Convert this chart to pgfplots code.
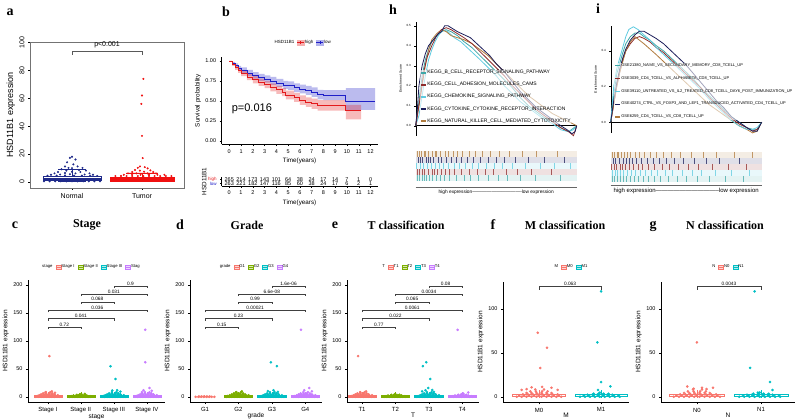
\documentclass[border=0pt]{standalone}
\usepackage{fontspec}
\setmainfont{Liberation Sans}
\newfontfamily\serifb{Liberation Serif}
\usepackage{pgfplots}
\pgfplotsset{compat=1.18}
\usepgfplotslibrary{statistics}
\usepackage{pgfplotstable}
\newcommand{\fs}[1]{\fontsize{#1}{#1}\selectfont}

\definecolor{cA}{HTML}{F8766D}
\definecolor{cB}{HTML}{7CAE00}
\definecolor{cC}{HTML}{00BFC4}
\definecolor{cD}{HTML}{C77CFF}
\definecolor{navyc}{HTML}{1F2A8A}
\definecolor{tred}{HTML}{F01010}
\definecolor{sred}{HTML}{E31A1C}
\definecolor{sblue}{HTML}{1F1FC8}
\definecolor{gteal}{HTML}{3FA7A7}
\definecolor{gmaroon}{HTML}{8E2B2B}
\definecolor{gcyan}{HTML}{5FCBE0}
\definecolor{gnavy}{HTML}{1C1E5A}
\definecolor{gtan}{HTML}{B07B3E}

% survival estimates
\pgfplotstableread{
t est
0 1.00
0.25 0.97
0.5 0.94
0.75 0.91
1 0.885
1.5 0.85
2 0.82
2.5 0.795
3 0.775
3.5 0.75
4 0.725
4.6 0.70
5 0.69
5.5 0.665
6 0.65
6.5 0.63
7 0.61
7.5 0.58
8 0.57
9.9 0.50
12.4 0.50
}\survlow
\pgfplotstableread{
t est
0 1.00
0.25 0.96
0.5 0.92
0.75 0.88
1 0.845
1.5 0.80
2 0.765
2.5 0.735
3 0.705
3.5 0.67
4 0.64
4.5 0.61
4.8 0.575
5.5 0.545
6 0.51
6.5 0.485
7 0.465
7.5 0.445
9.9 0.38
11.2 0.38
}\survhigh
\pgfplotstableread{
x y n
0 2 265
1 2 214
2 2 173
3 2 143
4 2 101
5 2 64
6 2 38
7 2 24
8 2 17
9 2 14
10 2 7
11 2 1
12 2 0
0 1 263
1 1 221
2 1 182
3 1 147
4 1 116
5 1 85
6 1 60
7 1 38
8 1 24
9 1 17
10 1 6
11 1 2
12 1 1
}\risk

% jittered bulk of points near zero (offset from the category, value)
\pgfplotstableread{
dx y
-0.36 0.3
-0.28 0.3
-0.20 0.3
-0.12 0.3
-0.04 0.3
0.04 0.3
0.12 0.3
0.20 0.3
0.28 0.3
0.36 0.3
-0.32 1.6
-0.24 1.6
-0.16 1.6
-0.08 1.6
0.00 1.6
0.08 1.6
0.16 1.6
0.24 1.6
0.32 1.6
-0.26 3.0
-0.18 3.0
-0.10 3.0
-0.02 3.0
0.06 3.0
0.14 3.0
0.22 3.0
0.30 3.0
-0.20 4.6
-0.12 4.6
-0.04 4.6
0.04 4.6
0.12 4.6
0.20 4.6
-0.14 6.4
-0.05 6.4
0.05 6.4
0.14 6.4
-0.06 8.6
0.08 8.6
}\swarmA
\pgfplotstableread{
dx y
-0.34 0.3
-0.26 0.3
-0.18 0.3
-0.10 0.3
-0.02 0.3
0.06 0.3
0.14 0.3
0.22 0.3
0.30 0.3
-0.28 1.4
-0.20 1.4
-0.12 1.4
-0.04 1.4
0.04 1.4
0.12 1.4
0.20 1.4
0.28 1.4
-0.22 2.6
-0.14 2.6
-0.06 2.6
0.02 2.6
0.10 2.6
0.18 2.6
-0.12 3.8
-0.04 3.8
0.04 3.8
0.12 3.8
-0.02 5.0
}\swarmB
\pgfplotstableread{
dx y
-0.28 0.2
-0.20 0.2
-0.12 0.2
-0.04 0.2
0.04 0.2
0.12 0.2
0.20 0.2
0.28 0.2
-0.18 0.9
-0.10 0.9
-0.02 0.9
0.06 0.9
0.14 0.9
}\swarmC

\pgfplotsset{
  base/.style={scale only axis, anchor=north west, clip=false,
    tick align=outside, major tick length=2pt,
    tick style={black, line width=0.4pt}, axis line style={line width=0.4pt},
    /pgf/number format/assume math mode=true, label style={inner sep=1pt},
    boxplot/draw direction=y},
  dots/.style={only marks, mark=*, mark size=1.1pt, color=#1,
    mark options={draw=none, fill=#1}, forget plot},
  bx/.style 2 args={#1, forget plot, line width=0.35pt,
    boxplot prepared={draw position=#2, lower whisker=0, lower quartile=0.4,
      median=1.4, upper quartile=3.6, upper whisker=8.5, box extend=0.85, whisker extend=0}},
  brk/.style={black!75, line width=0.35pt, forget plot},
  bkey/.style={legend image code/.code={
    \draw[draw=#1, fill=#1!30, line width=0.3pt] (0pt,-2pt) rectangle (5pt,2pt);
    \draw[#1, line width=0.3pt] (0pt,0pt) -- (5pt,0pt);}},
  skey/.style={legend image code/.code={
    \fill[#1!35] (0pt,-2.5pt) rectangle (7pt,2.5pt);
    \draw[#1, line width=0.6pt] (0pt,0pt) -- (7pt,0pt);
    \draw[#1, line width=0.4pt] (3.5pt,-1.5pt) -- (3.5pt,1.5pt);}},
  gkey/.style={legend image code/.code={
    \draw[#1, line width=1.6pt] (0pt,0pt) -- (5pt,0pt);}},
  bp/.style={base, axis x line*=bottom, axis y line*=left, xtick={1,2,3,4},
    tick label style={font=\fs{5.5}}, xticklabel style={font=\fs{6}},
    label style={font=\fs{6.5}}, ylabel={HSD11B1 expression},
    xlabel style={yshift=3.5pt},
    legend style={draw=none, fill=none, font=\fs{4.2}, legend columns=-1,
      anchor=center, inner sep=0pt, nodes={inner sep=0.5pt},
      /tikz/every even column/.append style={column sep=2.5pt}},
    legend cell align=left},
  bp4/.style={bp, height=122pt, ymin=-9, ymax=209, ytick={0,50,100,150,200}},
  bp2/.style={bp, height=120.6pt, ymin=-6, ymax=131, ytick={0,50,100}, xtick={1,2}},
  gsea/.style={base, axis y line*=left, axis x line=none, xtick=\empty,
    xmin=0, xmax=100, ytick style={line width=0.3pt}, major tick length=1.5pt,
    yticklabel style={font=\fs{3}, /pgf/number format/.cd, fixed, fixed zerofill, precision=1},
    ylabel={Enrichment Score}, ylabel style={font=\fs{3.5}},
    legend cell align=left},
  rug/.style={base, axis x line*=bottom, axis y line=none, xtick=\empty, ytick=\empty,
    xmin=0, xmax=100, axis line style={black!60, line width=0.5pt}},
  rug marks/.style={only marks, mark=|, mark size=3pt, opacity=0.75,
    mark options={line width=0.35pt}},
  band/.style={draw=none, fill=#1!14, forget plot},
}
\tikzset{bl/.style={font=\fs{4.8}, anchor=south, inner sep=0.6pt}}

\begin{document}
\begin{tikzpicture}
\useasboundingbox (0pt,0pt) rectangle (800pt,-419pt);

% ---------------- a
\begin{axis}[base, at={(30pt,-42pt)}, width=154pt, height=146pt,
  xmin=0.4, xmax=2.6, ymin=-4.5, ymax=100.5,
  xtick={1,2}, xticklabels={Normal,Tumor}, ytick={0,20,40,60,80,100},
  xtick pos=bottom, ytick pos=left, axis line style={black!55},
  tick label style={font=\fs{7}}, yticklabel style={rotate=90, anchor=south},
  ylabel={HSD11B1 expression}, ylabel style={font=\fs{9}}]
\addplot[dots=navyc, mark size=0.8pt] coordinates {
(1.00,18)(0.97,17.2)(1.05,16)(0.93,14)(1.02,12.5)(0.90,11)(1.08,11)(0.95,10)
(1.15,10)(1.00,9.8)(0.85,9)(1.10,8.5)(0.92,8)(1.20,8)(0.80,7)(1.00,7.2)(1.12,7)
(0.90,6.3)(1.25,6)(0.75,6)(1.05,6)(0.83,5.2)(0.97,5.4)(1.18,5.2)(1.30,5)(0.70,5)
(0.65,4.4)(0.78,4.4)(0.90,4.5)(1.03,4.4)(1.14,4.4)(1.26,4.3)(1.36,4.2)
(0.60,0.3)(0.68,0.3)(0.76,0.3)(0.84,0.3)(0.92,0.3)(1.00,0.3)(1.08,0.3)(1.16,0.3)
(1.24,0.3)(1.32,0.3)(1.40,0.3)};
\addplot[navyc, fill=white, line width=0.5pt, forget plot,
  boxplot/every median/.style={line width=1.4pt},
  boxplot prepared={draw position=1, lower whisker=0, lower quartile=0.9, median=1.9,
    upper quartile=3.9, upper whisker=9.2, box extend=0.83, whisker extend=0.4}] coordinates {};
\addplot[tred, fill=tred, line width=0.5pt, forget plot,
  boxplot prepared={draw position=2, lower whisker=0, lower quartile=0.2, median=1,
    upper quartile=2.9, upper whisker=6.3, box extend=0.92, whisker extend=0.45}] coordinates {};
\addplot[dots=tred, mark size=0.8pt] coordinates {
(2.02,74)(2.00,62)(1.99,56)(2.00,33)(2.01,17)(1.97,11)(2.04,10.5)(1.94,10)(2.08,9.6)
(1.90,8.5)(2.12,8.2)(1.97,8)(1.86,7)(2.16,7)(2.03,7.2)(1.80,6)(1.92,6)(2.08,6)(2.20,6)
(1.74,5)(1.86,5)(1.98,5)(2.10,5)(2.22,5)(2.32,5)
(1.62,4.1)(1.70,4.1)(1.78,4.1)(1.86,4.1)(1.94,4.1)(2.02,4.1)(2.10,4.1)(2.18,4.1)
(2.26,4.1)(2.34,4.1)(2.42,4.1)};
\addplot[black!65, line width=0.5pt, forget plot] coordinates {(1,91.5)(1,94)(2,94)(2,91.5)};
\node[font=\fs{7}, anchor=south, inner sep=1pt] at (axis cs:1.5,95) {p<0.001};
\end{axis}

% ---------------- b
\begin{axis}[base, at={(221.6pt,-57pt)}, width=156pt, height=87.2pt,
  xmin=-0.65, xmax=12.6, ymin=-0.04, ymax=1.05,
  axis x line*=bottom, axis y line*=left,
  xtick={0,1,...,12}, ytick={0,0.25,0.5,0.75,1},
  yticklabel style={/pgf/number format/.cd, fixed, fixed zerofill, precision=2},
  tick label style={font=\fs{5.5}}, label style={font=\fs{6.3}},
  xlabel={Time(years)}, ylabel={Survival probability},
  legend style={at={(0.52,1.164)}, anchor=center, draw=none, fill=none,
    font=\fs{4.5}, legend columns=-1, inner sep=0pt, nodes={inner sep=0.5pt},
    /tikz/every even column/.append style={column sep=2pt}}]
\addlegendimage{empty legend}\addlegendentry{HSD11B1}
\addlegendimage{skey=sred}\addlegendentry{high}
\addlegendimage{skey=sblue}\addlegendentry{low}
% confidence bands: upper limit forward, lower limit backward
\addplot[const plot, draw=none, fill=sblue, fill opacity=0.3, forget plot] coordinates {
(0,1)(0.25,0.99)(0.5,0.97)(0.75,0.94)(1,0.92)(1.5,0.89)(2,0.86)(2.5,0.84)(3,0.82)
(3.5,0.80)(4,0.775)(4.6,0.75)(5,0.745)(5.5,0.72)(6,0.705)(6.5,0.69)(7,0.67)(7.5,0.64)
(8,0.635)(9.9,0.66)(12.4,0.66)
(12.4,0.39)(9.9,0.51)(8,0.52)(7.5,0.55)(7,0.575)(6.5,0.595)(6,0.61)(5.5,0.64)(5,0.65)
(4.6,0.675)(4,0.70)(3.5,0.73)(3,0.75)(2.5,0.78)(2,0.81)(1.5,0.85)(1,0.88)(0.75,0.91)
(0.5,0.95)(0.25,1)(0,1)};
\addplot[const plot, draw=none, fill=sred, fill opacity=0.3, forget plot] coordinates {
(0,1)(0.25,0.98)(0.5,0.95)(0.75,0.91)(1,0.88)(1.5,0.84)(2,0.81)(2.5,0.78)(3,0.75)
(3.5,0.72)(4,0.69)(4.5,0.66)(4.8,0.63)(5.5,0.60)(6,0.57)(6.5,0.545)(7,0.53)(7.5,0.51)
(9.9,0.45)(11.2,0.45)
(11.2,0.27)(9.9,0.38)(7.5,0.40)(7,0.425)(6.5,0.45)(6,0.49)(5.5,0.52)(4.8,0.56)(4.5,0.59)
(4,0.62)(3.5,0.66)(3,0.69)(2.5,0.72)(2,0.76)(1.5,0.81)(1,0.85)(0.75,0.89)(0.5,0.94)
(0.25,1)(0,1)};
\addplot[const plot, sblue, line width=0.8pt, forget plot] table[x=t, y=est]{\survlow};
\addplot[const plot, sred, line width=0.8pt, forget plot] table[x=t, y=est]{\survhigh};
\node[font=\fs{11}, anchor=west, inner sep=0pt] at (axis cs:0.2,0.40) {p=0.016};
\end{axis}

\begin{axis}[base, at={(221.6pt,-176.8pt)}, width=156pt, height=9.24pt,
  xmin=-0.65, xmax=12.6, ymin=0.4, ymax=2.6,
  axis x line*=bottom, axis y line*=left,
  xtick={0,1,...,12}, ytick={1,2}, major tick length=1.5pt,
  yticklabels={\textcolor{sblue}{low},\textcolor{sred}{high}},
  yticklabel style={font=\fs{4.5}},
  xticklabel style={font=\fs{5.5}}, label style={font=\fs{6.3}},
  xlabel={Time(years)}, ylabel={HSD11B1}, ylabel style={yshift=-3pt}]
\addplot[only marks, mark=none, nodes near coords, point meta=explicit symbolic,
  nodes near coords style={anchor=center, font=\fs{5.5}, inner sep=0pt}]
  table[x=x, y=y, meta=n]{\risk};
\end{axis}

% ---------------- h
\begin{axis}[gsea, at={(415.7pt,-21.7pt)}, width=161pt, height=114pt,
  ymin=-0.05, ymax=0.52, ytick={0,0.1,0.2,0.3,0.4,0.5},
  legend style={at={(0.027,0.58)}, anchor=north west, draw=none, fill=white,
    fill opacity=0.6, text opacity=1, font=\fs{5}, inner sep=0pt,
    nodes={inner sep=0.5pt}, row sep=6.1pt}]
\addlegendimage{gkey=gteal}\addlegendentry{KEGG\_B\_CELL\_RECEPTOR\_SIGNALING\_PATHWAY}
\addlegendimage{gkey=gmaroon}\addlegendentry{KEGG\_CELL\_ADHESION\_MOLECULES\_CAMS}
\addlegendimage{gkey=gcyan}\addlegendentry{KEGG\_CHEMOKINE\_SIGNALING\_PATHWAY}
\addlegendimage{gkey=gnavy}\addlegendentry{KEGG\_CYTOKINE\_CYTOKINE\_RECEPTOR\_INTERACTION}
\addlegendimage{gkey=gtan}\addlegendentry{KEGG\_NATURAL\_KILLER\_CELL\_MEDIATED\_CYTOTOXICITY}
\addplot[black, line width=0.4pt, forget plot] coordinates {(0,0)(100,0)};
\addplot[gteal, line width=0.8pt, forget plot] coordinates {
(0,0)(2,0.12)(4,0.25)(6,0.33)(8,0.38)(10,0.42)(13,0.45)(16,0.47)(19,0.48)(22,0.47)
(26,0.45)(30,0.42)(35,0.39)(40,0.35)(45,0.31)(50,0.27)(55,0.23)(60,0.19)(65,0.14)
(70,0.10)(75,0.07)(80,0.04)(85,0.02)(90,-0.01)(95,-0.03)(100,0)};
\addplot[gcyan, line width=0.8pt, forget plot] coordinates {
(0,0)(2,0.05)(4,0.15)(6,0.25)(8,0.33)(10,0.38)(12,0.42)(14,0.45)(17,0.48)(20,0.47)
(24,0.44)(28,0.42)(32,0.39)(36,0.36)(40,0.33)(45,0.29)(50,0.25)(55,0.20)(60,0.16)
(65,0.12)(70,0.09)(75,0.06)(80,0.03)(85,0.01)(90,-0.02)(95,-0.03)(98,-0.02)(100,0)};
\addplot[gtan, line width=0.8pt, forget plot] coordinates {
(0,0)(2,0.10)(4,0.20)(6,0.30)(8,0.38)(10,0.43)(13,0.46)(16,0.48)(19,0.47)(22,0.45)
(26,0.44)(30,0.43)(35,0.41)(40,0.38)(45,0.35)(50,0.31)(55,0.27)(60,0.23)(65,0.19)
(70,0.15)(75,0.12)(80,0.09)(85,0.06)(90,0.04)(95,0.02)(100,0)};
\addplot[gmaroon, line width=0.8pt, forget plot] coordinates {
(0,0)(1,0.05)(3,0.15)(5,0.27)(7,0.34)(10,0.40)(13,0.45)(16,0.48)(19,0.49)(22,0.48)
(26,0.46)(30,0.44)(35,0.41)(40,0.37)(45,0.33)(50,0.29)(55,0.25)(60,0.20)(65,0.16)
(70,0.12)(75,0.08)(80,0.05)(85,0.02)(90,-0.01)(95,-0.03)(98,-0.05)(100,0)};
\addplot[gnavy, line width=0.8pt, forget plot] coordinates {
(0,0)(1,0.08)(2,0.20)(4,0.30)(6,0.36)(8,0.40)(10,0.42)(12,0.44)(14,0.46)(16,0.47)
(18,0.50)(20,0.50)(22,0.49)(26,0.47)(30,0.455)(34,0.44)(38,0.41)(42,0.38)(46,0.35)
(50,0.31)(55,0.27)(60,0.22)(65,0.17)(70,0.13)(75,0.09)(80,0.06)(85,0.03)(90,0.0)
(94,-0.02)(97,-0.04)(99,-0.03)(100,0)};
\end{axis}

\begin{axis}[rug, at={(415.7pt,-150pt)}, width=161pt, height=37pt,
  ymin=-0.5, ymax=5.67,
  xlabel={high expression-------------------------------low expression},
  xlabel style={font=\fs{4.8}, inner sep=0.5pt}]
\addplot[band=gtan] coordinates {(0,4.5)(100,4.5)(100,5.5)(0,5.5)};
\addplot[band=gnavy] coordinates {(0,3.5)(100,3.5)(100,4.5)(0,4.5)};
\addplot[band=gcyan] coordinates {(0,2.5)(100,2.5)(100,3.5)(0,3.5)};
\addplot[band=gmaroon] coordinates {(0,1.5)(100,1.5)(100,2.5)(0,2.5)};
\addplot[band=gteal] coordinates {(0,0.5)(100,0.5)(100,1.5)(0,1.5)};
\addplot[rug marks, gtan] coordinates {(1,5)(2,5)(3.5,5)(5,5)(6,5)(8,5)(10,5)(12,5)(13,5)
(15,5)(18,5)(20,5)(23,5)(26,5)(29,5)(33,5)(37,5)(41,5)(46,5)(52,5)(58,5)(66,5)(75,5)(88,5)};
\addplot[rug marks, gnavy] coordinates {(1.5,4)(3,4)(4,4)(6.5,4)(8,4)(9,4)(11,4)(14,4)
(16,4)(19,4)(22,4)(25,4)(28,4)(32,4)(36,4)(40,4)(45,4)(50,4)(55,4)(62,4)(70,4)(80,4)(92,4)};
\addplot[rug marks, gcyan] coordinates {(0.5,3)(2.5,3)(4.5,3)(7,3)(9.5,3)(12,3)(14.5,3)
(17,3)(20,3)(24,3)(27,3)(31,3)(35,3)(39,3)(44,3)(49,3)(54,3)(60,3)(68,3)(77,3)(86,3)(96,3)};
\addplot[rug marks, gmaroon] coordinates {(1,2)(2,2)(4,2)(5.5,2)(7.5,2)(10,2)(11.5,2)
(13.5,2)(16,2)(18.5,2)(21,2)(24,2)(28,2)(33,2)(38,2)(43,2)(48,2)(56,2)(63,2)(72,2)(84,2)};
\addplot[rug marks, gteal] coordinates {(0.8,1)(2.2,1)(3.8,1)(5,1)(6.8,1)(8.5,1)(10.5,1)
(12.5,1)(15,1)(17.5,1)(21,1)(25,1)(30,1)(34,1)(39,1)(45,1)(51,1)(57,1)(65,1)(74,1)(90,1)};
\end{axis}

% ---------------- i
\begin{axis}[gsea, at={(610.7pt,-25.9pt)}, width=151pt, height=107pt,
  ymin=-0.06, ymax=0.54, ytick={0,0.2,0.4},
  legend style={at={(0.022,0.655)}, anchor=north west, draw=none, fill=white,
    fill opacity=0.6, text opacity=1, font=\fs{4.0}, inner sep=0pt,
    nodes={inner sep=0.5pt}, row sep=7.6pt}]
\addlegendimage{gkey=gteal}\addlegendentry{GSE21380\_NAIVE\_VS\_SECONDARY\_MEMORY\_CD8\_TCELL\_UP}
\addlegendimage{gkey=gmaroon}\addlegendentry{GSE3039\_CD4\_TCELL\_VS\_ALPHABETA\_CD8\_TCELL\_UP}
\addlegendimage{gkey=gcyan}\addlegendentry{GSE39110\_UNTREATED\_VS\_IL2\_TREATED\_CD8\_TCELL\_DAY6\_POST\_IMMUNIZATION\_UP}
\addlegendimage{gkey=gnavy}\addlegendentry{GSE40274\_CTRL\_VS\_FOXP3\_AND\_LEF1\_TRANSDUCED\_ACTIVATED\_CD4\_TCELL\_UP}
\addlegendimage{gkey=gtan}\addlegendentry{GSE6259\_CD4\_TCELL\_VS\_CD8\_TCELL\_UP}
\addplot[black, line width=0.4pt, forget plot] coordinates {(0,0)(100,0)};
\addplot[gteal, line width=0.8pt, forget plot] coordinates {
(0,0)(2,0.15)(4,0.27)(6,0.33)(8,0.39)(10,0.44)(13,0.48)(16,0.50)(19,0.50)(22,0.48)
(26,0.46)(30,0.43)(35,0.40)(40,0.36)(45,0.32)(50,0.28)(55,0.24)(60,0.19)(65,0.15)
(70,0.11)(75,0.07)(80,0.03)(85,0.0)(90,-0.03)(94,-0.04)(97,-0.04)(100,0)};
\addplot[gmaroon, line width=0.8pt, forget plot] coordinates {
(0,0)(2,0.10)(4,0.20)(6,0.28)(8,0.35)(10,0.40)(13,0.44)(16,0.47)(19,0.48)(22,0.47)
(26,0.45)(30,0.42)(35,0.39)(40,0.35)(45,0.31)(50,0.27)(55,0.23)(60,0.19)(65,0.14)
(70,0.10)(75,0.06)(80,0.02)(85,-0.01)(90,-0.03)(94,-0.05)(97,-0.04)(100,0)};
\addplot[gtan, line width=0.8pt, forget plot] coordinates {
(0,0)(2,0.10)(4,0.20)(6,0.28)(8,0.34)(10,0.40)(13,0.45)(16,0.48)(19,0.46)(22,0.44)
(26,0.41)(30,0.38)(35,0.34)(40,0.30)(45,0.26)(50,0.22)(55,0.18)(60,0.14)(65,0.10)
(70,0.07)(75,0.04)(80,0.01)(85,-0.02)(90,-0.04)(94,-0.06)(97,-0.05)(100,0)};
\addplot[gcyan, line width=0.8pt, forget plot] coordinates {
(0,0)(2,0.20)(4,0.30)(6,0.36)(8,0.42)(10,0.48)(12,0.52)(15,0.535)(18,0.52)(22,0.49)
(26,0.46)(30,0.42)(35,0.38)(40,0.34)(45,0.30)(50,0.26)(55,0.22)(60,0.18)(65,0.13)
(70,0.09)(75,0.05)(80,0.01)(85,-0.02)(90,-0.04)(94,-0.04)(97,-0.03)(100,0)};
\addplot[gnavy, line width=0.8pt, forget plot] coordinates {
(0,0)(2,0.12)(4,0.22)(6,0.30)(8,0.36)(10,0.41)(13,0.46)(16,0.49)(19,0.51)(22,0.51)
(26,0.49)(30,0.47)(35,0.44)(40,0.40)(45,0.36)(50,0.32)(55,0.27)(60,0.22)(65,0.17)
(70,0.12)(75,0.08)(80,0.03)(85,0.0)(90,-0.03)(94,-0.05)(97,-0.05)(100,0)};
\end{axis}

\begin{axis}[rug, at={(610.7pt,-152pt)}, width=151pt, height=33pt,
  ymin=0, ymax=5.5,
  xlabel={high expression--------------------------------low expression},
  xlabel style={font=\fs{6}, inner sep=0.5pt}]
\addplot[band=gtan] coordinates {(0,4.5)(100,4.5)(100,5.5)(0,5.5)};
\addplot[band=gnavy] coordinates {(0,3.5)(100,3.5)(100,4.5)(0,4.5)};
\addplot[band=gmaroon] coordinates {(0,2.5)(100,2.5)(100,3.5)(0,3.5)};
\addplot[band=gcyan] coordinates {(0,1.5)(100,1.5)(100,2.5)(0,2.5)};
\addplot[band=gteal] coordinates {(0,0.5)(100,0.5)(100,1.5)(0,1.5)};
\addplot[rug marks, gtan] coordinates {(1,5)(2.5,5)(4,5)(5,5)(7,5)(9,5)(11,5)(13,5)(16,5)
(19,5)(22,5)(26,5)(30,5)(35,5)(40,5)(46,5)(53,5)(61,5)(70,5)(82,5)(94,5)};
\addplot[rug marks, gnavy] coordinates {(1.5,4)(3,4)(5.5,4)(8,4)(10,4)(12,4)(14,4)(17,4)
(20,4)(24,4)(28,4)(32,4)(37,4)(42,4)(48,4)(55,4)(63,4)(72,4)(85,4)};
\addplot[rug marks, gmaroon] coordinates {(0.5,3)(2,3)(3.5,3)(6,3)(7.5,3)(9.5,3)(12.5,3)
(15,3)(18,3)(21,3)(25,3)(29,3)(34,3)(39,3)(45,3)(51,3)(58,3)(67,3)(78,3)(90,3)};
\addplot[rug marks, gcyan] coordinates {(1,2)(3,2)(4.5,2)(6.5,2)(8.5,2)(11,2)(13.5,2)
(16,2)(19.5,2)(23,2)(27,2)(31,2)(36,2)(41,2)(47,2)(54,2)(60,2)(69,2)(80,2)(92,2)};
\addplot[rug marks, gteal] coordinates {(0.8,1)(2.2,1)(4,1)(6,1)(8,1)(10.5,1)(13,1)(15.5,1)
(18,1)(21.5,1)(25,1)(29,1)(33,1)(38,1)(44,1)(50,1)(57,1)(65,1)(76,1)(88,1)};
\end{axis}

% ---------------- c
\begin{axis}[bp4, at={(28pt,-280pt)}, width=137pt, xmin=0.4, xmax=4.55,
  xticklabels={Stage I,Stage II,Stage III,Stage IV}, xlabel={stage},
  legend style={at={(0.46,1.107)}}]
\addlegendimage{empty legend}\addlegendentry{stage}
\addlegendimage{bkey=cA}\addlegendentry{Stage I}
\addlegendimage{bkey=cB}\addlegendentry{Stage II}
\addlegendimage{bkey=cC}\addlegendentry{Stage III}
\addlegendimage{bkey=cD}\addlegendentry{Stag}
\addplot[bx={cA}{1}] coordinates {};
\addplot[bx={cB}{2}] coordinates {};
\addplot[bx={cC}{3}] coordinates {};
\addplot[bx={cD}{4}] coordinates {};
\addplot[dots=cA] table[x expr=\thisrow{dx}+1, y=y]{\swarmA};
\addplot[dots=cA] coordinates {(1.05,73)(1.12,10)(0.93,8.5)(1.22,7.5)};
\addplot[dots=cB] table[x expr=\thisrow{dx}+2, y=y]{\swarmB};
\addplot[dots=cB] coordinates {(2.12,5.5)};
\addplot[dots=cC] table[x expr=\thisrow{dx}+3, y=y]{\swarmA};
\addplot[dots=cC] coordinates {(2.9,55)(3.05,32)(2.95,11.5)(3.1,12)(3.2,9.5)};
\addplot[dots=cD] table[x expr=\thisrow{dx}+4, y=y]{\swarmA};
\addplot[dots=cD] coordinates {(3.95,120)(3.95,62)(4.08,16)(3.9,12)(4.15,11)(3.85,8.5)};
\addplot[brk] coordinates {(1,121)(1,125)(2,125)(2,121)};
\addplot[brk] coordinates {(1,136)(1,140)(3,140)(3,136)};
\addplot[brk] coordinates {(1,151)(1,155)(4,155)(4,151)};
\addplot[brk] coordinates {(2,166)(2,170)(3,170)(3,166)};
\addplot[brk] coordinates {(2,180)(2,184)(4,184)(4,180)};
\addplot[brk] coordinates {(3,194)(3,198)(4,198)(4,194)};
\node[bl] at (axis cs:1.5,125) {0.72};
\node[bl] at (axis cs:2,140) {0.041};
\node[bl] at (axis cs:2.5,155) {0.036};
\node[bl] at (axis cs:2.5,170) {0.068};
\node[bl] at (axis cs:3,184) {0.031};
\node[bl] at (axis cs:3.5,198) {0.9};
\end{axis}

% ---------------- d
\begin{axis}[bp4, at={(190pt,-280pt)}, width=132pt, xmin=0.55, xmax=4.5,
  xticklabels={G1,G2,G3,G4}, xlabel={grade},
  legend style={at={(0.485,1.107)}}]
\addlegendimage{empty legend}\addlegendentry{grade}
\addlegendimage{bkey=cA}\addlegendentry{G1}
\addlegendimage{bkey=cB}\addlegendentry{G2}
\addlegendimage{bkey=cC}\addlegendentry{G3}
\addlegendimage{bkey=cD}\addlegendentry{G4}
\addplot[bx={cB}{2}] coordinates {};
\addplot[bx={cC}{3}] coordinates {};
\addplot[bx={cD}{4}] coordinates {};
\addplot[dots=cA] table[x expr=\thisrow{dx}+1, y=y]{\swarmC};
\addplot[dots=cB] table[x expr=\thisrow{dx}+2, y=y]{\swarmA};
\addplot[dots=cB] coordinates {(2.1,10)(1.92,8)};
\addplot[dots=cC] table[x expr=\thisrow{dx}+3, y=y]{\swarmA};
\addplot[dots=cC] coordinates {(2.97,62)(3.15,55)(2.88,10.5)(3.05,12)(3.18,9)};
\addplot[dots=cD] table[x expr=\thisrow{dx}+4, y=y]{\swarmA};
\addplot[dots=cD] coordinates {(3.87,120)(4.12,16)(3.97,12)(4.2,10)};
\addplot[brk] coordinates {(1,121)(1,125)(2,125)(2,121)};
\addplot[brk] coordinates {(1,136)(1,140)(3,140)(3,136)};
\addplot[brk] coordinates {(1,151)(1,155)(4,155)(4,151)};
\addplot[brk] coordinates {(2,166)(2,170)(3,170)(3,166)};
\addplot[brk] coordinates {(2,180)(2,184)(4,184)(4,180)};
\addplot[brk] coordinates {(3,194)(3,198)(4,198)(4,194)};
\node[bl] at (axis cs:1.5,125) {0.15};
\node[bl] at (axis cs:2,140) {0.23};
\node[bl] at (axis cs:2.5,155) {0.00021};
\node[bl] at (axis cs:2.5,170) {0.99};
\node[bl] at (axis cs:3,184) {6.6e-08};
\node[bl] at (axis cs:3.5,198) {1.6e-06};
\end{axis}

% ---------------- e
\begin{axis}[bp4, at={(347pt,-280pt)}, width=132pt, xmin=0.55, xmax=4.5,
  xticklabels={T1,T2,T3,T4}, xlabel={T},
  legend style={at={(0.485,1.107)}}]
\addlegendimage{empty legend}\addlegendentry{T}
\addlegendimage{bkey=cA}\addlegendentry{T1}
\addlegendimage{bkey=cB}\addlegendentry{T2}
\addlegendimage{bkey=cC}\addlegendentry{T3}
\addlegendimage{bkey=cD}\addlegendentry{T4}
\addplot[bx={cA}{1}] coordinates {};
\addplot[bx={cB}{2}] coordinates {};
\addplot[bx={cC}{3}] coordinates {};
\addplot[bx={cD}{4}] coordinates {};
\addplot[dots=cA] table[x expr=\thisrow{dx}+1, y=y]{\swarmA};
\addplot[dots=cA] coordinates {(0.88,73)(1.12,10)(0.95,8)};
\addplot[dots=cB] table[x expr=\thisrow{dx}+2, y=y]{\swarmB};
\addplot[dots=cC] table[x expr=\thisrow{dx}+3, y=y]{\swarmA};
\addplot[dots=cC] coordinates {(2.82,55)(2.92,62)(3.04,32)(2.98,16)(2.9,12)(3.1,12.5)(3.15,9)(2.8,10)};
\addplot[dots=cD] table[x expr=\thisrow{dx}+4, y=y]{\swarmB};
\addplot[dots=cD] coordinates {(3.86,120)(4.18,8)(4.03,6)};
\addplot[brk] coordinates {(1,121)(1,125)(2,125)(2,121)};
\addplot[brk] coordinates {(1,136)(1,140)(3,140)(3,136)};
\addplot[brk] coordinates {(1,151)(1,155)(4,155)(4,151)};
\addplot[brk] coordinates {(2,166)(2,170)(3,170)(3,166)};
\addplot[brk] coordinates {(2,180)(2,184)(4,184)(4,180)};
\addplot[brk] coordinates {(3,194)(3,198)(4,198)(4,194)};
\node[bl] at (axis cs:1.5,125) {0.77};
\node[bl] at (axis cs:2,140) {0.022};
\node[bl] at (axis cs:2.5,155) {0.0061};
\node[bl] at (axis cs:2.5,170) {0.065};
\node[bl] at (axis cs:3,184) {0.0034};
\node[bl] at (axis cs:3.5,198) {0.08};
\end{axis}

% ---------------- f
\begin{axis}[bp2, at={(503pt,-281.7pt)}, width=126pt, xmin=0.42, xmax=2.45,
  xticklabels={M0,M1}, xlabel={M},
  legend style={at={(0.54,1.122)}}]
\addlegendimage{empty legend}\addlegendentry{M}
\addlegendimage{bkey=cA}\addlegendentry{M0}
\addlegendimage{bkey=cC}\addlegendentry{M1}
\addplot[bx={cA}{1}] coordinates {};
\addplot[bx={cC}{2}] coordinates {};
\addplot[dots=cA] table[x expr=\thisrow{dx}+1, y=y]{\swarmA};
\addplot[dots=cA] coordinates {(0.98,73)(1.13,56)(1.02,33)(0.88,11)(1.05,11.5)(1.2,10.5)(0.8,9)(1.3,8)(0.72,8)};
\addplot[dots=cC] table[x expr=\thisrow{dx}+2, y=y]{\swarmB};
\addplot[dots=cC] coordinates {(2.0,120)(1.94,62)(2.0,17)(2.15,12)(1.95,8)};
\addplot[brk] coordinates {(1,122)(1,126)(2,126)(2,122)};
\node[bl] at (axis cs:1.5,126) {0.063};
\end{axis}

% ---------------- g
\begin{axis}[bp2, at={(661pt,-281.7pt)}, width=134pt, xmin=0.44, xmax=2.53,
  xticklabels={N0,N1}, xlabel={N},
  legend style={at={(0.5,1.122)}}]
\addlegendimage{empty legend}\addlegendentry{N}
\addlegendimage{bkey=cA}\addlegendentry{N0}
\addlegendimage{bkey=cC}\addlegendentry{N1}
\addplot[bx={cA}{1}] coordinates {};
\addplot[bx={cC}{2}] coordinates {};
\addplot[dots=cA] table[x expr=\thisrow{dx}+1, y=y]{\swarmA};
\addplot[dots=cA] coordinates {(1.0,62)(0.85,12)(1.08,10.5)(1.25,10.5)(1.15,9)(0.95,9.5)};
\addplot[dots=cC] table[x expr=\thisrow{dx}+2, y=y]{\swarmB};
\addplot[dots=cC] coordinates {(1.9,120)(1.83,33)(2.14,17)(2.18,8)(1.95,5)};
\addplot[brk] coordinates {(1,122)(1,126)(2,126)(2,122)};
\node[bl] at (axis cs:1.5,126) {0.0043};
\end{axis}

% ---------------- panel letters and titles
\begin{scope}[every node/.style={font=\serifb\bfseries\fs{14}}]
\node at (10pt,-12pt) {a};
\node at (226pt,-12pt) {b};
\node at (393pt,-10pt) {h};
\node at (598pt,-9pt) {i};
\node at (15pt,-225pt) {c};
\node at (180pt,-225pt) {d};
\node at (335pt,-225pt) {e};
\node at (493pt,-225pt) {f};
\node at (653pt,-226pt) {g};
\end{scope}
\begin{scope}[every node/.style={font=\serifb\bfseries\fs{12}}]
\node at (87pt,-225pt) {Stage};
\node at (247pt,-225pt) {Grade};
\node at (406pt,-225pt) {T classification};
\node at (565pt,-225pt) {M classification};
\node at (725pt,-225pt) {N classification};
\end{scope}
\end{tikzpicture}
\end{document}
